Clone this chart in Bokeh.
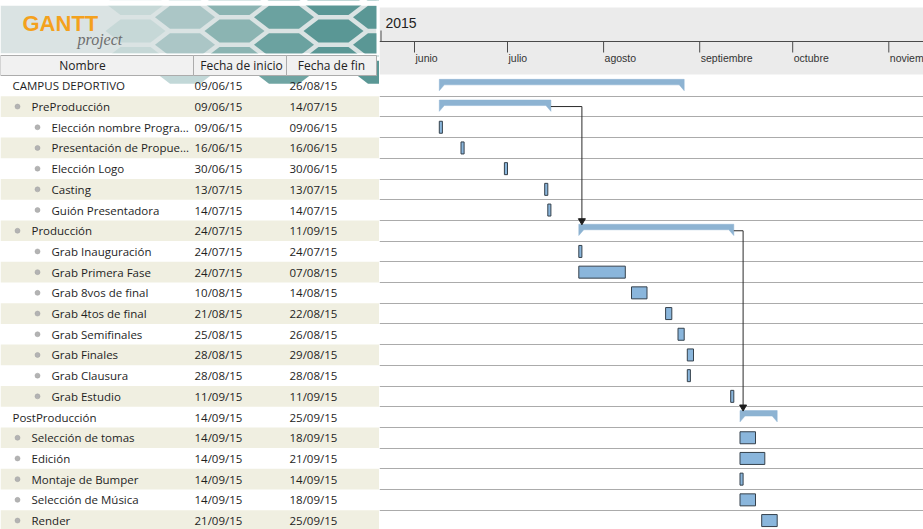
from datetime import datetime, timedelta
from bokeh.plotting import figure
from bokeh.layouts import row
from bokeh.models import Range1d
from bokeh.core.properties import value
from bokeh.embed import file_html
from bokeh.resources import INLINE

# ---------------- data ----------------
task_names = ["CAMPUS DEPORTIVO", "PreProducción", "Elección nombre Progra...",
              "Presentación de Propue...", "Elección Logo", "Casting", "Guión Presentadora",
              "Producción", "Grab Inauguración", "Grab Primera Fase", "Grab 8vos de final",
              "Grab 4tos de final", "Grab Semifinales", "Grab Finales", "Grab Clausura",
              "Grab Estudio", "PostProducción", "Selección de tomas", "Edición",
              "Montaje de Bumper", "Selección de Música", "Render"]
task_levels = [0, 1, 2, 2, 2, 2, 2, 1, 2, 2, 2, 2, 2, 2, 2, 2, 0, 1, 1, 1, 1, 1]
start_dates = ["09/06/15", "09/06/15", "09/06/15", "16/06/15", "30/06/15", "13/07/15",
               "14/07/15", "24/07/15", "24/07/15", "24/07/15", "10/08/15", "21/08/15",
               "25/08/15", "28/08/15", "28/08/15", "11/09/15", "14/09/15", "14/09/15",
               "14/09/15", "14/09/15", "14/09/15", "21/09/15"]
end_dates = ["26/08/15", "14/07/15", "09/06/15", "16/06/15", "30/06/15", "13/07/15",
             "14/07/15", "11/09/15", "24/07/15", "07/08/15", "14/08/15", "22/08/15",
             "26/08/15", "29/08/15", "28/08/15", "11/09/15", "25/09/15", "18/09/15",
             "21/09/15", "14/09/15", "18/09/15", "25/09/15"]
summary_rows = [0, 1, 7, 16]
dependencies = [(1, 7), (7, 16)]
month_names = ["junio", "julio", "agosto", "septiembre", "octubre", "noviembre"]
month_numbers = [6, 7, 8, 9, 10, 11]
year_label = "2015"
column_titles = ["Nombre", "Fecha de inicio", "Fecha de fin"]

# ---------------- layout constants ----------------
W, H = 923, 529
TABLE_W = 379
GANTT_W = W - TABLE_W
ROW_PX = 20.7
ROW0_PX = 75.0
Y_TOP = -0.5 - ROW0_PX / ROW_PX
Y_BOT = Y_TOP + H / ROW_PX
PX_PER_DAY = 3.10
ANCHOR_PX = 414 - TABLE_W  # June 1st position inside the gantt panel


def ypx(px):
    return Y_TOP + px / ROW_PX


def rpx(px):
    return px / ROW_PX


def dpx(px):
    return timedelta(days=px / PX_PER_DAY)


def parse(s):
    d, m, y = s.split("/")
    return datetime(2000 + int(y), int(m), int(d))


starts = [parse(s) for s in start_dates]
ends = [parse(s) + timedelta(days=1) for s in end_dates]
n = len(task_names)

x_start = datetime(2015, 6, 1) - dpx(ANCHOR_PX)
x_end = x_start + dpx(GANTT_W)

SANS = value("Open Sans")
ARIAL = value("Liberation Sans")

# ================= Gantt panel =================
g = figure(width=GANTT_W, height=H, x_range=Range1d(x_start, x_end),
           y_range=Range1d(Y_BOT, Y_TOP), x_axis_type="datetime",
           x_axis_location=None, y_axis_location=None, output_backend="svg",
           toolbar_location=None, min_border=0, outline_line_color=None,
           background_fill_color="white", border_fill_color="white")
g.grid.visible = False

# header band
g.quad(left=[x_start], right=[x_end], top=[ypx(7)], bottom=[ypx(74)],
       fill_color="#ebebeb", line_color=None)
g.segment(x0=[x_start], x1=[x_end], y0=[ypx(41)], y1=[ypx(41)],
          line_color="#4a4a4a", line_width=1)
g.segment(x0=[x_start + dpx(1.5)], x1=[x_start + dpx(1.5)], y0=[ypx(30)], y1=[ypx(41)],
          line_color="#4a4a4a", line_width=1)
g.text(x=[x_start], y=[ypx(22)], text=[year_label], x_offset=6,
       text_font=ARIAL, text_font_size="14px", text_color="#222222",
       text_baseline="middle", text_align="left")
month_dates = [datetime(2015, m, 1) for m in month_numbers]
g.segment(x0=month_dates, x1=month_dates, y0=[ypx(41)] * len(month_dates),
          y1=[ypx(52)] * len(month_dates), line_color="#4a4a4a", line_width=1)
g.text(x=month_dates, y=[ypx(57.5)] * len(month_dates), text=month_names, x_offset=1,
       text_font=ARIAL, text_font_size="10.5px", text_color="#333333",
       text_baseline="middle", text_align="left")

# row separator lines
g.hspan(y=[i + 0.5 for i in range(n)], line_color="#ababab", line_width=1)

# summary bars
top_off, bot_off, tip_off = rpx(-6.5), rpx(-1.0), rpx(4.8)
sxs, sys = [], []
for i in summary_rows:
    s, e = starts[i], ends[i]
    sxs.append([s, e, e, e - dpx(5), s + dpx(5), s])
    sys.append([i + top_off, i + top_off, i + tip_off, i + bot_off, i + bot_off, i + tip_off])
g.patches(xs=sxs, ys=sys, fill_color="#8db3d2", line_color="#8db3d2", line_width=0.5)

# task bars
task_rows = [i for i in range(n) if i not in summary_rows]
g.quad(left=[starts[i] for i in task_rows], right=[ends[i] for i in task_rows],
       top=[i - rpx(6) for i in task_rows], bottom=[i + rpx(6) for i in task_rows],
       fill_color="#8ab6dc", line_color="#35414c", line_width=1)

# dependency arrows
dxs, dys, ax, ay = [], [], [], []
for a, b in dependencies:
    xv = starts[b] + timedelta(days=1)
    y_tip = b + top_off
    dxs.append([ends[a], xv, xv])
    dys.append([a, a, y_tip - rpx(4)])
    ax.append(xv)
    ay.append(y_tip - rpx(3.5))
g.multi_line(xs=dxs, ys=dys, line_color="#2b2b2b", line_width=1)
g.scatter(x=ax, y=ay, marker="inverted_triangle", size=7,
          fill_color="#1e1e1e", line_color="#1e1e1e")

# ================= Table panel =================
t = figure(width=TABLE_W, height=H, x_range=Range1d(0, TABLE_W),
           y_range=Range1d(Y_BOT, Y_TOP), x_axis_location=None, y_axis_location=None,
           output_backend="svg", toolbar_location=None, min_border=0,
           outline_line_color=None, background_fill_color="white",
           border_fill_color="white")
t.grid.visible = False

# stripes
odd = [i for i in range(n) if i % 2 == 1]
t.quad(left=[0] * len(odd), right=[TABLE_W] * len(odd), top=[i - 0.5 for i in odd],
       bottom=[i + 0.5 for i in odd], fill_color="#f0efe1", line_color=None)

# logo background
t.quad(left=[0], right=[376], top=[ypx(5)], bottom=[ypx(53)],
       fill_color="#dae3e3", line_color=None)
HEX_A, HEX_H, GAP = 30, 11.5, 4.5
hxs, hys, halpha = [], [], []
for c in range(0, 10):
    cx = 135 + c * (1.5 * HEX_A + GAP)
    for r in range(-1, 3):
        cy = 3 + r * (2 * HEX_H + GAP) + (c % 2) * (HEX_H + GAP / 2)
        hxs.append([cx - HEX_A, cx - HEX_A / 2, cx + HEX_A / 2, cx + HEX_A,
                    cx + HEX_A / 2, cx - HEX_A / 2])
        hys.append([ypx(cy), ypx(cy - HEX_H), ypx(cy - HEX_H), ypx(cy),
                    ypx(cy + HEX_H), ypx(cy + HEX_H)])
        halpha.append(min(1.0, max(0.15, (cx - 110) / 200)))
t.patches(xs=hxs, ys=hys, fill_color="#5a9795", fill_alpha=halpha, line_color=None)
# white covers to clip the pattern
t.quad(left=[0, 376, 0], right=[TABLE_W, TABLE_W, TABLE_W],
       top=[Y_TOP, Y_TOP, ypx(53)], bottom=[ypx(5), ypx(55), ypx(55)],
       fill_color="white", line_color=None)
t.text(x=[22], y=[ypx(23)], text=["GANTT"], text_font=ARIAL, text_font_style="bold",
       text_font_size="22px", text_color="#f4a11d", text_baseline="middle")
t.text(x=[77], y=[ypx(39)], text=["project"], text_font=value("Liberation Serif"),
       text_font_style="italic", text_font_size="16px", text_color="#6d6d6d",
       text_baseline="middle")

# column headers
t.quad(left=[0, 193, 286], right=[193, 286, 376], top=[ypx(55)] * 3,
       bottom=[ypx(75)] * 3, fill_color="#f1f1f1", line_color="#acacac", line_width=1)
t.text(x=[82, 241, 331], y=[ypx(65)] * 3, text=column_titles, text_font=SANS,
       text_font_size="12px", text_color="#222222", text_baseline="middle",
       text_align="center")

# rows
indent_text = [12, 31, 51]
indent_bullet = [None, 17, 37]
t.text(x=[indent_text[l] for l in task_levels], y=list(range(n)), text=task_names,
       text_font=SANS, text_font_size="11.5px", text_color="#1e1e1e", text_baseline="middle")
brow = [i for i in range(n) if task_levels[i] > 0]
t.scatter(x=[indent_bullet[task_levels[i]] for i in brow], y=brow, marker="circle", size=5,
          fill_color="#b3b3b3", line_color="#a0a0a0", line_width=0.5)
t.text(x=[194] * n, y=list(range(n)), text=start_dates, text_font=SANS,
       text_font_size="11.5px", text_color="#1e1e1e", text_baseline="middle")
t.text(x=[289] * n, y=list(range(n)), text=end_dates, text_font=SANS,
       text_font_size="11.5px", text_color="#1e1e1e", text_baseline="middle")

layout = row(t, g, spacing=0)
open("out.html", "w").write(file_html(layout, INLINE))
